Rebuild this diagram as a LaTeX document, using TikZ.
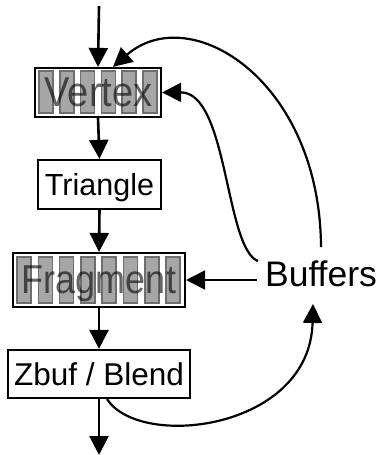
\documentclass[tikz,border=0pt]{standalone}
\usepackage{fontspec}
\usepackage{graphicx}
\setmainfont{Liberation Sans}
\usetikzlibrary{arrows.meta}
\definecolor{barfill}{HTML}{A6A6A6}
\definecolor{barline}{HTML}{6E6E6E}
\begin{document}
\begin{tikzpicture}[x=1pt,y=-1pt,
  stage/.style={draw=black,line width=2.2pt,fill=white,inner sep=0pt,text depth=0pt},
  bar/.style={fill=barfill,draw=barline,line width=1.6pt},
  faded/.style={text=black,text opacity=0.6,inner sep=0pt,text depth=0pt},
  flow/.style={line width=2.6pt,-{Triangle[length=19pt,width=19pt]}},
  feed/.style={line width=2.2pt,-{Triangle[length=19pt,width=19pt]}}]
\useasboundingbox (0,0) rectangle (382,455);

% pipeline stages
\node[stage,minimum width=126pt,minimum height=49pt] (vertex) at (98,92.5) {};
\foreach \i in {0,...,5}
  \draw[bar] ({39+\i*20.8},71) rectangle ++(14,42);
\node[faded,text height=30pt,font=\fontsize{38}{40}\selectfont] at (98.5,91) {\scalebox{1}[1.1]{Vertex}};

\node[stage,minimum width=123pt,minimum height=49pt,text height=21.5pt,
  font=\fontsize{30.5}{36}\selectfont] (triangle) at (99.5,184.5) {Triangle};

\node[stage,minimum width=172pt,minimum height=54pt] (fragment) at (99,280) {};
\foreach \i in {0,...,7}
  \draw[bar] ({17+\i*21.3},257) rectangle ++(14,46);
\node[faded,text height=28.9pt,font=\fontsize{36}{40}\selectfont] at (99,279) {\scalebox{1}[1.12]{Fragment}};

\node[stage,minimum width=182pt,minimum height=48pt,text height=22.5pt,
  font=\fontsize{31.5}{36}\selectfont] (zbuf) at (99,374) {Zbuf / Blend};

\node[inner sep=0pt,text height=25.5pt,text depth=0pt,
  font=\fontsize{35.5}{40}\selectfont] (buf) at (321,274) {Buffers};

\coordinate (in) at (99,6);
\coordinate (out) at (99,455);

% main flow
\draw[flow] (in) -- (vertex.north);
\draw[flow] (vertex.south) -- (triangle.north);
\draw[flow] (triangle.south) -- (fragment.north);
\draw[flow] (fragment.south) -- (zbuf.north);
\draw[flow] (zbuf.south) -- (out);

% buffer traffic
\draw[feed] ([xshift=-8pt]buf.west |- fragment.east) -- (fragment.east);
\draw[feed] ([yshift=14pt]buf.north) .. controls (320,80) and (190,0) .. ([xshift=15pt]vertex.north);
\draw[feed] ([xshift=-7pt]buf.north west) .. controls (225,248) and (228,92) .. (vertex.east);
\draw[feed] ([xshift=8pt]zbuf.south) .. controls (140,450) and (310,430) .. ([xshift=-8pt,yshift=-17pt]buf.south);
\end{tikzpicture}
\end{document}
